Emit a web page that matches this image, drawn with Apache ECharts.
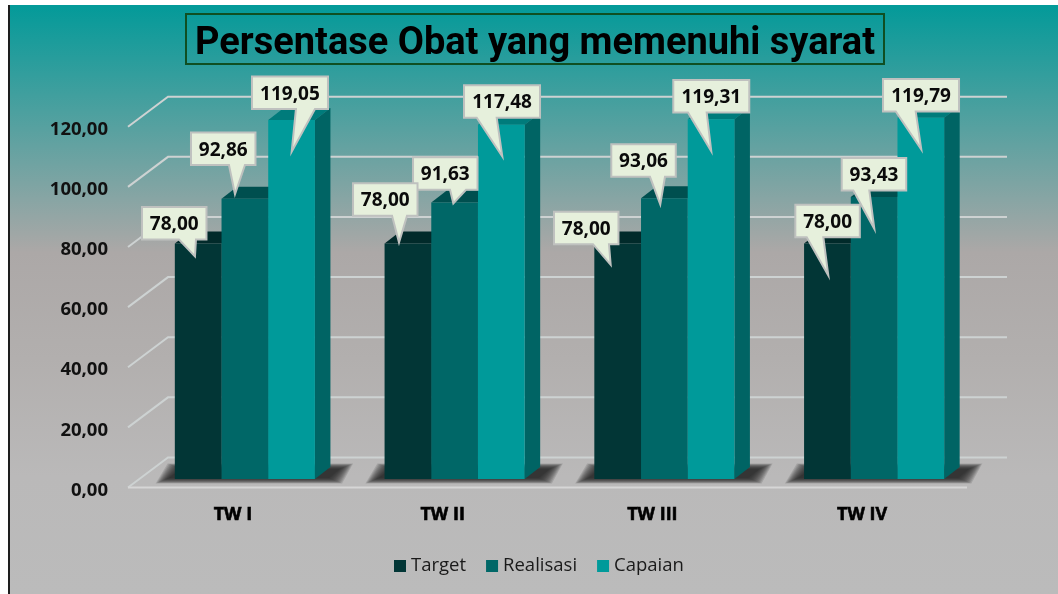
<!DOCTYPE html>
<html>
<head>
<meta charset="utf-8">
<style>html,body{margin:0;padding:0;background:#fff}#c{width:1058px;height:594px}</style>
<script src="https://cdn.jsdelivr.net/npm/echarts@6/dist/echarts.min.js"></script>
</head>
<body>
<div id="c"></div>
<script>
const categories = ['TW I', 'TW II', 'TW III', 'TW IV'];
const seriesNames = ['Target', 'Realisasi', 'Capaian'];
const target = [78.00, 78.00, 78.00, 78.00];
const realisasi = [92.86, 91.63, 93.06, 93.43];
const capaian = [119.05, 117.48, 119.31, 119.79];
const yTicks = [0, 20, 40, 60, 80, 100, 120];

// Callout placement relative to the bar's top-centre: box left, box top, tip x, tip y, pointer base left, pointer base right
const targetCallouts = [[-56.2,-36.5,-3.2,15.5,-19.2,-2.2],[-54.9,-60.2,-8.9,1.5,-15.9,-0.9],[-63.7,-31.8,-7,23.8,-24.7,-8.7],[-32.1,-38.8,0.9,34.5,-20.7,-4.1]];
const realisasiCallouts = [[-53.9,-66.3,-9.9,-2.1,-15.9,0.1],[-41.6,-45.2,-1.3,3.5,-4.6,11.4],[-53.1,-53.9,-4.1,8.8,-14.4,0.6],[-32.4,-39.1,0.2,34.2,-20.8,-4.8]];
const capaianCallouts = [[-39.6,-43.6,0.1,34.2,4.4,23.4],[-37.3,-39.5,1,34.2,-24.6,-4.6],[-37.8,-39.3,0.2,34.4,-23.1,-4.4],[-37.8,-38.8,0.5,34.2,-25.1,-5.1]];

const allValues = [target, realisasi, capaian];
const allCallouts = [targetCallouts, realisasiCallouts, capaianCallouts];
const faces = [
  { front: '#023636', top: '#012A2A', side: '#012A2A' },
  { front: '#006767', top: '#004F4F', side: '#004F4F' },
  { front: '#009A9A', top: '#007B7B', side: '#006464' }
];
const FONT = '"Open Sans"';
const wallDx = 40, wallDy = -30;      // depth of the 3D walls
const floorDx = 12, floorDy = -8.5;   // front face of the bars, from the front floor edge
const barDx = 15.5, barDy = -12;      // depth of each bar
const barFrac = 46.7 / 209.75;
const tipInset = 2.5;                 // the stroke's mitre overshoots the pointer tip by this much
const shadowSteps = [11, 10, 9, 8, 7, 6, 5, 4, 3, 2, 1, 0];
const fmt = v => v.toFixed(2).replace('.', ',');

const chart = echarts.init(document.getElementById('c'), null, { renderer: 'canvas' });

function renderWall(params, api) {
  const v = api.value(1);
  const cs = params.coordSys;
  const y = api.coord([0, v])[1];
  const x0 = cs.x, x1 = cs.x + cs.width;
  const style = { stroke: '#CDD2D2', lineWidth: 2, fill: null };
  const children = [{
    type: 'polyline',
    shape: { points: [[x0, y], [x0 + wallDx, y + wallDy], [x1 + wallDx, y + wallDy]] },
    style
  }];
  if (v === 0) {
    children.push({ type: 'line', shape: { x1: x0, y1: y, x2: x1, y2: y }, style: { stroke: '#D6D6D6', lineWidth: 2 } });
  }
  return { type: 'group', children };
}

function renderShadow(params, api) {
  const p = api.coord([api.value(0), 0]);
  const bx = p[0] + floorDx, by = p[1] + floorDy;
  return {
    type: 'group',
    children: shadowSteps.map(e => ({
      type: 'polygon',
      shape: { points: [
        [bx - 76 - e * 1.2, by - 1 + e * 0.5], [bx + 84 + e * 1.2, by - 1 + e * 0.5],
        [bx + 95 + e * 1.2, by - 10 - e * 0.5], [bx - 64 - e * 1.2, by - 10 - e * 0.5]
      ] },
      style: { fill: 'rgba(34,34,34,0.15)' }
    }))
  };
}

function barRenderer(si) {
  return function (params, api) {
    const p = api.coord([api.value(0), api.value(1)]);
    const base = api.coord([api.value(0), 0]);
    const w = api.size([1, 0])[0] * barFrac;
    const l = p[0] + floorDx + (si - 1.5) * w, r = l + w;
    const t = p[1] + floorDy - 1, b = base[1] + floorDy;
    const c = faces[si];
    return {
      type: 'group',
      children: [
        { type: 'polygon', shape: { points: [[l, t], [r, t], [r + barDx, t + barDy], [l + barDx, t + barDy]] }, style: { fill: c.top } },
        { type: 'polygon', shape: { points: [[r, t], [r + barDx, t + barDy], [r + barDx, b + barDy], [r, b]] }, style: { fill: c.side } },
        { type: 'rect', shape: { x: l, y: t, width: w, height: b - t }, style: { fill: c.front } }
      ]
    };
  };
}

function calloutRenderer(si) {
  return function (params, api) {
    const i = api.value(0), v = api.value(1);
    const p = api.coord([i, v]);
    const w = api.size([1, 0])[0] * barFrac;
    const cx = p[0] + floorDx + (si - 1) * w, cy = p[1] + floorDy - 1;
    const o = allCallouts[si][i];
    const text = fmt(v);
    const bw = text.length > 5 ? 76 : 64.5, bh = 32.5;
    const L = cx + o[0], T = cy + o[1], R = L + bw, B = T + bh;
    return {
      type: 'group',
      children: [
        { type: 'polygon',
          shape: { points: [[L, T], [R, T], [R, B], [cx + o[5], B], [cx + o[2], cy + o[3] - tipInset], [cx + o[4], B], [L, B]] },
          style: { fill: '#E6F0DC', stroke: '#BFC1BF', lineWidth: 2 } },
        { type: 'text',
          style: { x: (L + R) / 2, y: (T + B) / 2 + 1.5, text, align: 'center', verticalAlign: 'middle',
                   font: 'bold 19px ' + FONT, fill: '#0A0A0A' } }
      ]
    };
  };
}

const series = [
  { type: 'custom', name: 'wall', z: 1, silent: true, animation: false, renderItem: renderWall,
    encode: { x: 0, y: 1 }, data: yTicks.map(t => [0, t]) },
  { type: 'custom', name: 'shadow', z: 2, silent: true, animation: false, renderItem: renderShadow,
    encode: { x: 0, y: 1 }, data: categories.map((c, i) => [i, 0]) }
];
seriesNames.forEach((name, si) => {
  series.push({ type: 'custom', name, z: 3 + si, animation: false, renderItem: barRenderer(si),
    itemStyle: { color: faces[si].front }, encode: { x: 0, y: 1 },
    data: allValues[si].map((v, i) => [i, v]) });
});
[2, 1, 0].forEach((si, k) => {
  series.push({ type: 'custom', name: 'callout' + si, z: 10 + k, silent: true, animation: false,
    renderItem: calloutRenderer(si), encode: { x: 0, y: 1 },
    data: allValues[si].map((v, i) => [i, v]) });
});

chart.setOption({
  animation: false,
  graphic: [
    { type: 'rect', silent: true, z: -2, shape: { x: 10, y: 5, width: 1048, height: 589 },
      style: { fill: new echarts.graphic.LinearGradient(0, 0, 0, 1, [
        { offset: 0, color: '#039A99' },
        { offset: 0.42, color: '#ACA8A7' },
        { offset: 0.6, color: '#B2AFAE' },
        { offset: 0.8, color: '#BAB9B9' },
        { offset: 1, color: '#BBBBBB' }
      ]) } },
    { type: 'rect', silent: true, z: -1, shape: { x: 8, y: 5, width: 2, height: 589 }, style: { fill: '#1E1E1E' } }
  ],
  title: {
    text: 'Persentase Obat yang memenuhi syarat',
    left: 186, top: 14,
    padding: [11, 9, 1, 9],
    borderColor: '#0F4F22', borderWidth: 2,
    textStyle: { fontFamily: 'Roboto', fontWeight: 'bold', fontSize: 38, color: '#000', lineHeight: 38 }
  },
  legend: {
    data: seriesNames, left: 394, top: 556.5, padding: 0, itemWidth: 12, itemHeight: 12, itemGap: 20, icon: 'rect',
    textStyle: { fontFamily: FONT, fontSize: 18.5, color: '#1A1A1A' }
  },
  grid: { left: 128, width: 839, top: 126.7, height: 360.8, containLabel: false },
  xAxis: {
    type: 'category', data: categories, boundaryGap: true,
    axisLine: { show: false }, axisTick: { show: false }, splitLine: { show: false },
    axisLabel: { margin: 18, fontFamily: FONT, fontWeight: 'bold', fontSize: 18, color: '#000',
                 textBorderColor: '#000', textBorderWidth: 0.6 }
  },
  yAxis: {
    type: 'value', min: 0, max: 120, interval: 20,
    axisLine: { show: false }, axisTick: { show: false }, splitLine: { show: false },
    axisLabel: { margin: 20, verticalAlign: 'top', lineHeight: 6, fontFamily: FONT, fontWeight: 'bold', fontSize: 18.5, color: '#111', formatter: v => fmt(v) }
  },
  series
});
</script>
</body>
</html>
